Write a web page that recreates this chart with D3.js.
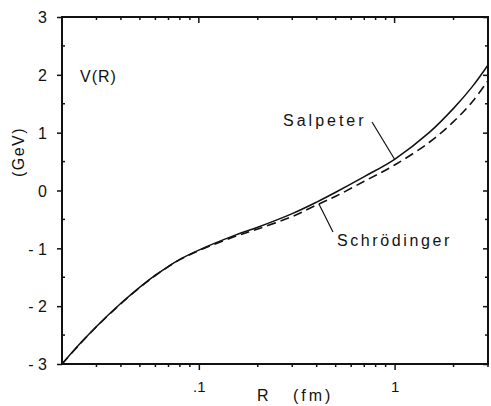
<!DOCTYPE html>
<html>
<head>
<meta charset="utf-8">
<script src="https://cdn.jsdelivr.net/npm/d3@7"></script>
<style>
  body { margin: 0; background: #fff; }
  text { font-family: "Liberation Sans", Arial, sans-serif; fill: #111; }
</style>
</head>
<body>
<svg id="chart" width="491" height="406"></svg>
<script>
// R in fm, V in GeV
const radii = [0.02, 0.025, 0.03, 0.04, 0.05, 0.06, 0.07, 0.08, 0.1, 0.15, 0.2, 0.3, 0.4, 0.5, 0.7, 1.0, 1.5, 2.0, 2.5, 3.0];
const salpeter = [-3.0, -2.63, -2.35, -1.95, -1.67, -1.465, -1.31, -1.19, -1.03, -0.785, -0.635, -0.4, -0.2, -0.03, 0.24, 0.54, 1.0, 1.42, 1.8, 2.17];
const schrodinger = [-3.0, -2.635, -2.355, -1.955, -1.675, -1.47, -1.315, -1.195, -1.04, -0.805, -0.665, -0.45, -0.25, -0.1, 0.16, 0.44, 0.83, 1.19, 1.54, 1.9];

const yMajor = [3, 2, 1, 0, -1, -2, -3];
const yMajorLabels = ["3", "2", "1", "0", "- 1", "- 2", "- 3"];
const yMinor = [2.5, 1.5, 0.5, -0.5, -1.5, -2.5];
const xMajor = [0.1, 1];
const xMajorLabels = [".1", "1"];
const xMinor = [0.03, 0.04, 0.05, 0.06, 0.07, 0.08, 0.09, 0.2, 0.3, 0.4, 0.5, 0.6, 0.7, 0.8, 0.9, 2, 3];

const margin = { left: 62, top: 17, right: 3, bottom: 42 };
const svg = d3.select("#chart");
const W = 491, H = 406;
const x0 = margin.left, x1 = W - margin.right;
const y0 = margin.top, y1 = H - margin.bottom;

const xScale = d3.scaleLog().domain([0.02, 3]).range([x0, x1]);
const yScale = d3.scaleLinear().domain([-3, 3]).range([y1, y0]);

// frame
svg.append("rect")
  .attr("x", x0).attr("y", y0)
  .attr("width", x1 - x0).attr("height", y1 - y0)
  .attr("fill", "none").attr("stroke", "#111").attr("stroke-width", 2);

// left axis: outward majors, small minors
const left = svg.append("g").attr("transform", `translate(${x0},0)`)
  .call(d3.axisLeft(yScale).tickValues(yMajor).tickSize(5).tickPadding(10)
    .tickFormat((d, i) => yMajorLabels[i]));
left.select(".domain").remove();
left.selectAll(".tick line").attr("stroke", "#111").attr("stroke-width", 1.5);
left.selectAll(".tick text").style("font-size", "16px").attr("dy", "0.36em");

svg.append("g").selectAll("line").data(yMinor).join("line")
  .attr("x1", x0).attr("x2", x0 + 3)
  .attr("y1", d => yScale(d)).attr("y2", d => yScale(d))
  .attr("stroke", "#111").attr("stroke-width", 1.5);

// right axis: inward ticks
const right = svg.append("g").attr("transform", `translate(${x1},0)`)
  .call(d3.axisLeft(yScale).tickValues(yMajor).tickSize(5).tickFormat(""));
right.select(".domain").remove();
right.selectAll(".tick line").attr("x2", -5).attr("stroke", "#111").attr("stroke-width", 1.5);
svg.append("g").selectAll("line").data(yMinor).join("line")
  .attr("x1", x1).attr("x2", x1 - 3)
  .attr("y1", d => yScale(d)).attr("y2", d => yScale(d))
  .attr("stroke", "#111").attr("stroke-width", 1.5);

// bottom axis: outward ticks
const bottom = svg.append("g").attr("transform", `translate(0,${y1})`)
  .call(d3.axisBottom(xScale).tickValues(xMajor).tickSize(6).tickPadding(11)
    .tickFormat((d, i) => xMajorLabels[i]));
bottom.select(".domain").remove();
bottom.selectAll(".tick line").attr("stroke", "#111").attr("stroke-width", 1.5);
bottom.selectAll(".tick text").style("font-size", "15px");
svg.append("g").selectAll("line").data(xMinor).join("line")
  .attr("x1", d => xScale(d)).attr("x2", d => xScale(d))
  .attr("y1", y1).attr("y2", y1 + 3)
  .attr("stroke", "#111").attr("stroke-width", 1.5);

// top axis: inward ticks
svg.append("g").selectAll("line").data(xMajor).join("line")
  .attr("x1", d => xScale(d)).attr("x2", d => xScale(d))
  .attr("y1", y0).attr("y2", y0 + 6)
  .attr("stroke", "#111").attr("stroke-width", 1.5);
svg.append("g").selectAll("line").data(xMinor).join("line")
  .attr("x1", d => xScale(d)).attr("x2", d => xScale(d))
  .attr("y1", y0).attr("y2", y0 + 3)
  .attr("stroke", "#111").attr("stroke-width", 1.5);

// curves
const line = d3.line()
  .x(d => xScale(d[0]))
  .y(d => yScale(d[1]))
  .curve(d3.curveCatmullRom.alpha(0.5));

svg.append("path")
  .datum(radii.map((r, i) => [r, schrodinger[i]]))
  .attr("d", line).attr("fill", "none")
  .attr("stroke", "#111").attr("stroke-width", 1.6)
  .attr("stroke-dasharray", "9,5");

svg.append("path")
  .datum(radii.map((r, i) => [r, salpeter[i]]))
  .attr("d", line).attr("fill", "none")
  .attr("stroke", "#111").attr("stroke-width", 1.5);

// labels
svg.append("text").attr("x", 80).attr("y", 82)
  .style("font-size", "16px").style("letter-spacing", "1px").text("V(R)");

svg.append("text")
  .attr("transform", "translate(24,152) rotate(-90)")
  .attr("text-anchor", "middle")
  .style("font-size", "16px").style("letter-spacing", "1.5px").text("(GeV)");

svg.append("text").attr("x", 257).attr("y", 401)
  .style("font-size", "16px").text("R");
svg.append("text").attr("x", 293).attr("y", 401)
  .style("font-size", "16px").style("letter-spacing", "3px").text("(fm)");

// series labels with leader lines
svg.append("text").attr("x", 283).attr("y", 126)
  .style("font-size", "16px").style("letter-spacing", "3px").text("Salpeter");
svg.append("line")
  .attr("x1", 372).attr("y1", 122)
  .attr("x2", xScale(1.0)).attr("y2", yScale(salpeter[15]))
  .attr("stroke", "#111").attr("stroke-width", 1.2);

svg.append("text").attr("x", 337).attr("y", 246)
  .style("font-size", "16px").style("letter-spacing", "2.6px").text("Schrödinger");
svg.append("line")
  .attr("x1", 333).attr("y1", 232)
  .attr("x2", xScale(0.41)).attr("y2", yScale(-0.23))
  .attr("stroke", "#111").attr("stroke-width", 1.2);
</script>
</body>
</html>
